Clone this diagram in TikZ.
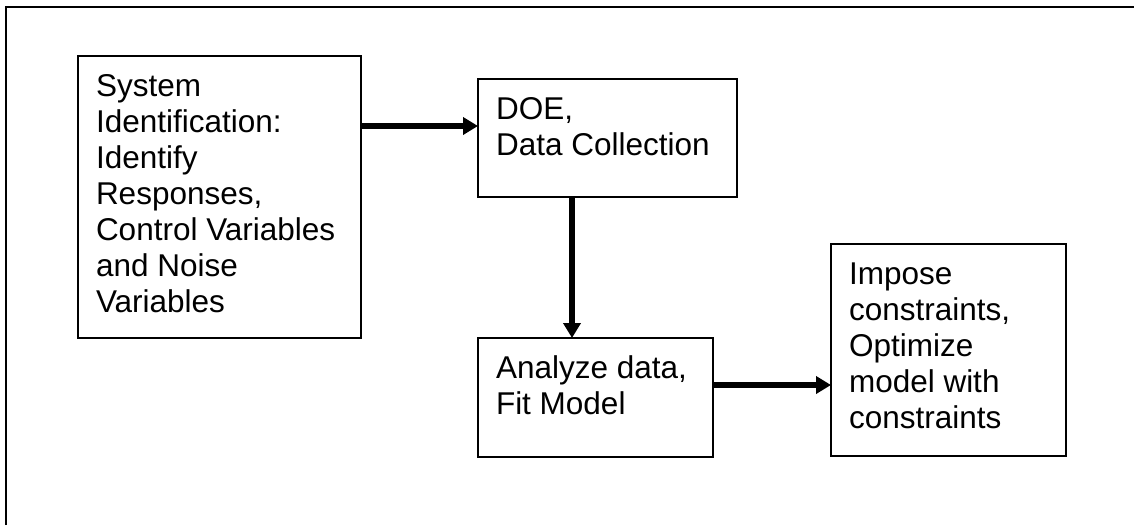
\documentclass[tikz,border=0pt]{standalone}
\usepackage{fontspec}
\setmainfont{Liberation Sans}
\usetikzlibrary{arrows.meta}
\newcommand{\boxtxt}[3]{\hspace*{18pt}\parbox[t][#2][t]{\dimexpr#1-18pt\relax}{\raggedright\rule{0pt}{40pt}#3}}
\begin{document}
\begin{tikzpicture}[x=1pt,y=-1pt,
  box/.style={draw, line width=1.8pt, anchor=north west, inner sep=0pt, outer sep=0pt,
    font=\fontsize{31.5}{36}\selectfont},
  arr/.style={line width=5.5pt, -{Triangle[length=15pt,width=17pt]}},
  frame/.style={line width=2.2pt}]
\useasboundingbox (0,0) rectangle (1134,525);
\draw[frame] (6,525) -- (6,7) -- (1134,7);
\node[box] (sys) at (78,56) {\boxtxt{283pt}{282pt}{System\\Identification:\\Identify\\Responses,\\Control Variables\\and Noise\\Variables}};
\node[box] (doe) at (478,79) {\boxtxt{259pt}{118pt}{DOE,\\Data Collection}};
\node[box] (ana) at (478,338) {\boxtxt{235pt}{119pt}{Analyze data,\\Fit Model}};
\node[box] (imp) at (831,244) {\boxtxt{235pt}{212pt}{Impose\\constraints,\\Optimize\\model with\\constraints}};
\coordinate (r1) at (0,126);
\coordinate (c2) at (572,0);
\coordinate (r3) at (0,385);
\draw[arr] (sys.east |- r1) -- (doe.west |- r1);
\draw[arr] (doe.south -| c2) -- (ana.north -| c2);
\draw[arr] (ana.east |- r3) -- (imp.west |- r3);
\end{tikzpicture}
\end{document}
